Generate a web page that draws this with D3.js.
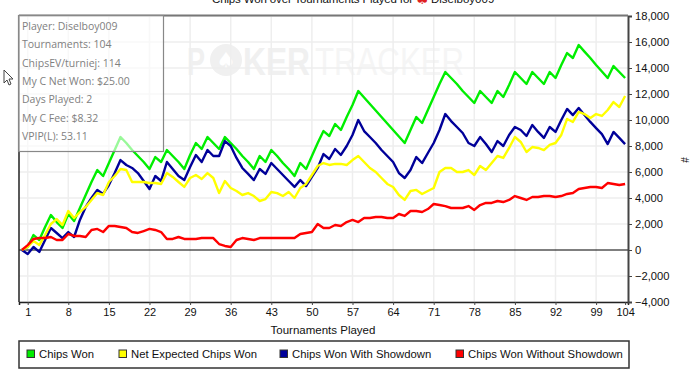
<!DOCTYPE html>
<html lang="en">
<head>
    <meta charset="UTF-8">
    <title>Chips Won</title>
    <script src="https://d3js.org/d3.v7.min.js"></script>
    <style>
        html, body { margin: 0; background: #fff; overflow: hidden; }
        text { font-family: "Liberation Sans", Arial, sans-serif; }
    </style>
</head>
<body>
<script>
    const width  = 700;
    const height = 370;

    // one value per tournament, index 0 is the starting point
    const chipsWon = [0,230,1150,770,1770,2690,2150,1690,2770,2230,3230,4230,5230,6150,5690,6690,7690,8690,8230,7690,7230,6770,6230,7150,6770,7690,7230,6770,6230,7310,8230,7770,8690,8230,7770,8690,8230,7770,7230,6770,6230,7230,6770,7690,7230,6690,6230,5690,6690,6230,7230,8230,9150,8770,9690,9230,10230,11150,12230,11730,11230,10730,10230,9730,9230,8730,8230,9230,10230,9770,10770,11770,12770,13690,13230,12770,12230,11770,11310,12230,11770,11310,12230,11770,12690,13690,13230,12770,13690,13230,12770,13690,13230,14230,15150,14770,15770,15260,14770,14230,13730,13230,14150,13690,13230];
    const netExpected = [0,230,690,380,1150,2000,2380,1920,3000,2460,2920,3310,3850,4380,4230,5230,5690,6230,6150,5230,5230,5230,5150,5150,5080,5920,5620,5230,4850,5540,5770,5460,5920,5540,4380,5310,4770,4540,4230,4380,4150,3770,3920,4460,4380,4150,4460,4000,4770,5080,5770,6460,6690,6540,6620,6620,6540,6920,7230,6770,6310,6000,5540,5080,4850,4230,3850,4540,4620,4310,4540,4770,6000,6310,6310,6000,6000,6150,5770,6460,6150,6690,7230,7080,7850,8690,8310,7540,7920,7850,7690,8080,8230,8850,10080,9850,10620,10460,10150,10460,10310,10770,11380,11000,11850];
    const withShowdown = [0,-310,230,-150,770,1690,1310,920,1380,1000,2310,3310,4000,4620,4310,5000,5920,6920,6540,6310,5920,5310,4690,5690,5310,6770,6230,5690,5380,6380,7310,6770,7690,7230,7230,8380,8000,7080,6310,5850,5380,6230,5850,6690,6230,5770,5310,4850,5380,4920,5620,6310,7380,7000,7770,7310,8000,8850,10000,9150,8690,8230,7690,7230,6770,5920,5540,6150,7150,6690,7460,8230,9230,10460,9920,9460,9000,8230,8000,8690,8150,7540,8380,8000,8850,9460,9230,8770,9620,9080,8620,9460,9080,10000,10850,10380,10920,10380,9850,9380,8920,8150,9080,8620,8150];
    const withoutShowdown = [0,380,850,920,920,1000,770,770,1230,1080,1080,1000,1540,1620,1380,1850,1850,1770,1690,1380,1310,1460,1620,1540,1380,850,850,1000,850,850,850,920,920,920,460,310,230,770,920,850,770,920,920,920,920,920,920,920,1230,1310,1380,2000,1690,1690,1920,1850,2150,2310,2150,2460,2460,2540,2540,2460,2460,2770,2620,3000,3000,2920,3150,3540,3460,3380,3230,3230,3230,3380,3080,3460,3620,3620,3770,3690,3850,4150,4000,3850,4080,4080,4150,4150,4080,4150,4310,4380,4690,4770,4850,4850,4770,5150,5080,5000,5080];

    const seriesNames  = ["Chips Won", "Net Expected Chips Won", "Chips Won With Showdown", "Chips Won Without Showdown"];
    const seriesColors = ["#00ee00", "#ffff00", "#000099", "#ff0000"];

    const xTicks = [1,8,15,22,29,36,43,50,57,64,71,78,85,92,99,104];
    const yTicks = [-4000,-2000,0,2000,4000,6000,8000,10000,12000,14000,16000,18000];

    const tooltipLines = ["Player: Diselboy009","Tournaments: 104","ChipsEV/turniej: 114","My C Net Won: $25.00","Days Played: 2","My C Fee: $8.32","VPIP(L): 53.11"];

    const margin = {top: 16, right: 72, bottom: 68, left: 19};

    const scaleX = d3.scaleLinear()
                     .domain([-0.5, 104.5])
                     .range([margin.left, width - margin.right]);

    const scaleY = d3.scaleLinear()
                     .domain([-4000, 18000])
                     .range([height - margin.bottom, margin.top]);

    const svg = d3.select("body").append("svg").attr("width", width).attr("height", height).style("display", "block");

    // watermark
    const mark = svg.append("g");
    mark.append("text").attr("x", 187).attr("y", 75).attr("font-size", 39).attr("font-weight", "bold")
        .attr("fill", "#f0f0f0").attr("textLength", 18).attr("lengthAdjust", "spacingAndGlyphs").text("P");
    mark.append("circle").attr("cx", 226).attr("cy", 60).attr("r", 16).attr("fill", "#f0f0f0");
    mark.append("text").attr("x", 226).attr("y", 68).attr("text-anchor", "middle").attr("font-size", 22)
        .style("font-family", "DejaVu Sans").attr("fill", "#ffffff").text("♠");
    mark.append("text").attr("x", 243).attr("y", 75).attr("font-size", 39).attr("font-weight", "bold")
        .attr("fill", "#f0f0f0").attr("textLength", 67).attr("lengthAdjust", "spacingAndGlyphs").text("KER");
    mark.append("text").attr("x", 315).attr("y", 75).attr("font-size", 39)
        .attr("fill", "#f5f5f5").attr("textLength", 149).attr("lengthAdjust", "spacingAndGlyphs").text("TRACKER");

    // grid
    svg.append("g").selectAll("line").data(xTicks.slice(0, -1)).join("line")
        .attr("x1", d => scaleX(d)).attr("x2", d => scaleX(d))
        .attr("y1", margin.top).attr("y2", height - margin.bottom)
        .attr("stroke", "#eeeeee").attr("stroke-width", 1.5);
    svg.append("g").selectAll("line").data(yTicks.filter(d => d !== 0)).join("line")
        .attr("x1", margin.left).attr("x2", width - margin.right)
        .attr("y1", d => scaleY(d)).attr("y2", d => scaleY(d))
        .attr("stroke", "#eeeeee").attr("stroke-width", 1.5);

    // zero line
    svg.append("line")
        .attr("x1", margin.left).attr("x2", width - margin.right)
        .attr("y1", scaleY(0)).attr("y2", scaleY(0))
        .attr("stroke", "#000").attr("stroke-width", 1.2);

    const line = d3.line()
                   .x((d, i) => scaleX(i))
                   .y(d => scaleY(d));

    [[chipsWon, 0], [withShowdown, 2], [netExpected, 1], [withoutShowdown, 3]].forEach(s => {
        svg.append("path")
            .attr("d", line(s[0]))
            .attr("fill", "none")
            .attr("stroke", seriesColors[s[1]])
            .attr("stroke-width", 2.4)
            .attr("stroke-linejoin", "round");
    });

    // axes
    const axisX = d3.axisBottom(scaleX).tickValues(xTicks).tickSize(3).tickPadding(3).tickFormat(d3.format("d"));
    const axisY = d3.axisRight(scaleY).tickValues(yTicks).tickSize(4).tickPadding(3).tickFormat(d3.format(","));

    const gx = svg.append("g").attr("transform", `translate(0,${height - margin.bottom})`).call(axisX);
    const gy = svg.append("g").attr("transform", `translate(${width - margin.right},0)`).call(axisY);
    gx.selectAll("text").attr("font-size", 11).attr("fill", "#111").style("font-family", "Liberation Sans");
    gy.selectAll("text").attr("font-size", 11.2).attr("fill", "#111").style("font-family", "Liberation Sans");
    gx.select(".domain").attr("stroke", "#222").attr("stroke-width", 1.5);
    gy.select(".domain").attr("stroke", "#444").attr("stroke-width", 2);
    gx.selectAll(".tick line").attr("stroke", "#444");
    gy.selectAll(".tick line").attr("stroke", "#444");

    // frame top and left
    svg.append("line").attr("x1", margin.left).attr("x2", width - margin.right).attr("y1", margin.top - 0.5).attr("y2", margin.top - 0.5)
        .attr("stroke", "#777").attr("stroke-width", 2);
    svg.append("line").attr("x1", margin.left).attr("x2", margin.left).attr("y1", margin.top).attr("y2", height - margin.bottom)
        .attr("stroke", "#222").attr("stroke-width", 1.5);

    // titles
    svg.append("text").attr("x", 212).attr("y", 3).attr("font-size", 11.5).attr("fill", "#111")
        .attr("textLength", 201).text("Chips Won over Tournaments Played for");
    svg.append("text").attr("x", 416).attr("y", 4).attr("font-size", 14).attr("fill", "#e02020")
        .style("font-family", "DejaVu Sans").text("♣");
    svg.append("text").attr("x", 431).attr("y", 3).attr("font-size", 11.5).attr("fill", "#111")
        .text("Diselboy009");
    svg.append("text").attr("x", 323).attr("y", 334).attr("text-anchor", "middle").attr("font-size", 11.5).attr("fill", "#111")
        .text("Tournaments Played");
    svg.append("text").attr("transform", "translate(681,160) rotate(90)").attr("text-anchor", "middle").attr("font-size", 10).attr("fill", "#111")
        .text("#");

    // legend
    const legendX = [27, 119, 280, 456];
    svg.append("rect").attr("x", 19).attr("y", 341).attr("width", 610).attr("height", 27)
        .attr("fill", "#fff").attr("stroke", "#333").attr("stroke-width", 1.5);
    const legend = svg.append("g").selectAll("g").data(seriesNames).join("g")
        .attr("transform", (d, i) => `translate(${legendX[i]},350)`);
    legend.append("rect").attr("width", 7.5).attr("height", 7.5)
        .attr("fill", (d, i) => seriesColors[i]).attr("stroke", "#333");
    legend.append("text").attr("x", 12).attr("y", 8).attr("font-size", 11.3).attr("fill", "#111").text(d => d);

    // tooltip box on top of the chart
    svg.append("rect").attr("x", 18.5).attr("y", 15.5).attr("width", 145).attr("height", 136)
        .attr("fill", "#fff").attr("fill-opacity", 0.6).attr("stroke", "#888").attr("stroke-width", 1.2);
    svg.append("g").selectAll("text").data(tooltipLines).join("text")
        .attr("x", 22).attr("y", (d, i) => 30 + i * 18.3)
        .attr("font-size", 10.5).attr("fill", "#808080")
        .style("font-family", "Open Sans")
        .text(d => d);

    // mouse pointer
    svg.append("path").attr("d", "M4,70V83L7,80L9,85L11,84L9,79H13Z").attr("fill", "#fff").attr("stroke", "#444");
</script>
</body>
</html>
